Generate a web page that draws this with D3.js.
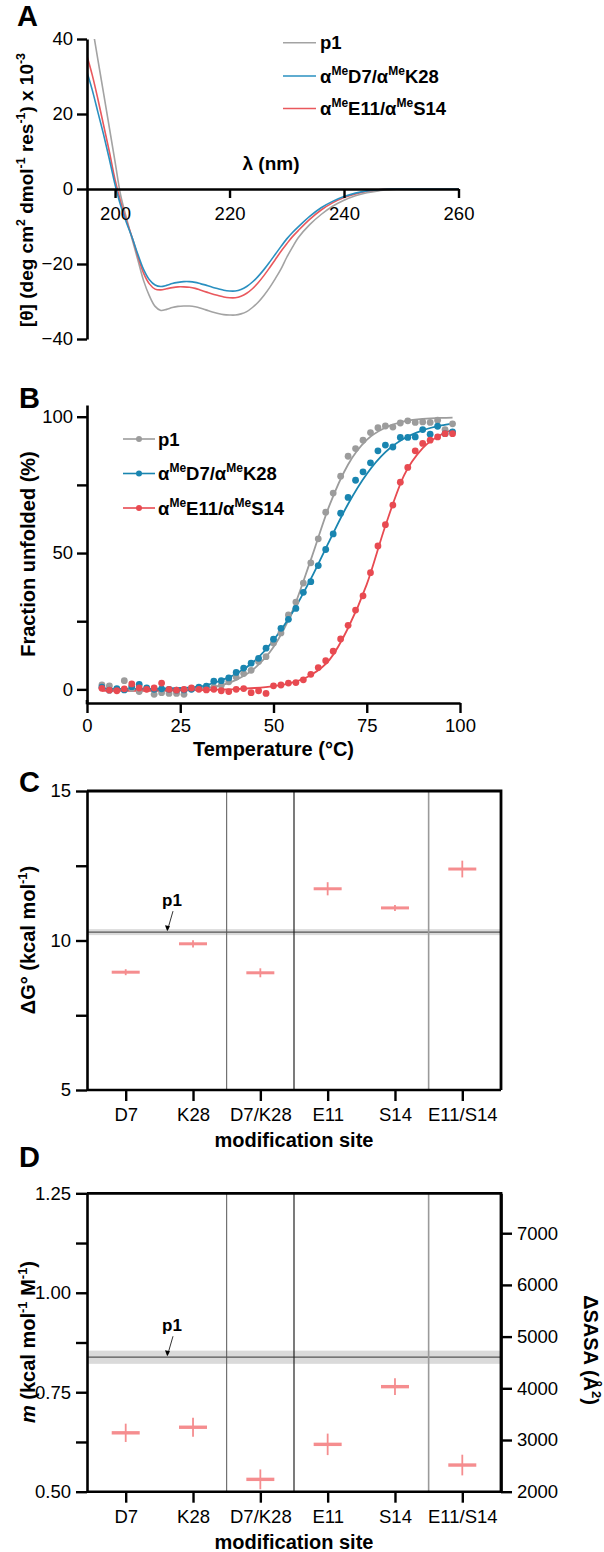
<!DOCTYPE html>
<html><head><meta charset="utf-8">
<script src="https://cdn.jsdelivr.net/npm/d3@7/dist/d3.min.js"></script>
<style>body{margin:0;background:#fff}svg{display:block}</style>
</head><body>
<script>
// ---------- DATA ----------
// Panel A: CD spectra
const cdWavelength = [195,196,197,198,199,200,201,202,203,204,205,206,207,208,209,210,211,212,213,214,215,216,217,218,219,220,221,222,223,224,225,226,227,228,229,230,231,232,234,236,238,240,242,244,246,248,250,252,254,256,258,260];
const cdP1     = [52,43.6,34.5,25.5,16.4,7.3,-1.8,-7.8,-13.5,-19,-24.5,-28.5,-31.3,-32.4,-32.1,-31.6,-31.3,-31.2,-31.2,-31.4,-31.8,-32.3,-32.8,-33.2,-33.5,-33.6,-33.6,-33.3,-32.7,-31.6,-30.2,-28.4,-26.3,-23.9,-21.3,-18.2,-15.5,-13,-9.5,-6.8,-4.6,-3,-1.8,-1,-0.5,-0.2,0,0,0,0,0,0];
const cdD7K28  = [31.7,26.5,20.5,14.5,8,1.2,-4.5,-9,-13,-17.5,-21.5,-24.2,-25.6,-26,-25.7,-25.2,-24.9,-24.7,-24.7,-24.9,-25.3,-25.7,-26.2,-26.6,-27,-27.2,-27.2,-26.8,-26,-24.8,-23.3,-21.5,-19.5,-17.4,-15.3,-13.3,-11.6,-10.1,-7.3,-5,-3.3,-2,-1.1,-0.5,-0.2,0,0,0,0,0,0,0];
const cdE11S14 = [36,30.5,24,17,10,2.5,-3.5,-8.5,-13,-18,-22.5,-25.3,-26.7,-26.9,-26.6,-26.3,-26.1,-26.1,-26.2,-26.5,-27,-27.5,-28,-28.4,-28.8,-29,-29,-28.6,-27.8,-26.6,-25,-23.1,-21,-18.8,-16.6,-14.6,-12.7,-11.1,-8.1,-5.6,-3.7,-2.3,-1.3,-0.6,-0.2,0,0,0,0,0,0,0];
const cdTicksX = [200,220,240,260];
const cdTicksY = [-40,-20,0,20,40];

// Panel B: thermal melts
const meltTemp = [4,6,8,10,12,14,16,18,20,22,24,26,28,30,32,34,36,38,40,42,44,46,48,50,52,54,56,58,60,62,64,66,68,70,72,74,76,78,80,82,84,86,88,90,92,94,96,98];
const meltP1     = [1.6,1.3,0,3.2,0.3,-0.8,0.2,-1.8,-1.2,-1.5,-1.5,-1.8,0.2,0.3,0.5,0.8,1.5,2.8,4.5,5.8,7,10.2,12,17,20.7,27.3,32,39,46.4,55.2,65,72,78.2,85.5,88.3,91.4,94.2,96,96.6,96.2,97.7,98.5,97.9,98.1,97.9,98.7,95.3,97.4];
const meltD7K28  = [0.8,-0.3,0.3,-0.2,1,1.8,0.5,0,0.2,0,-0.3,-0.2,0,0.8,1.2,3,3.2,4.2,6.2,7.8,9.6,11.4,15.1,18.4,22.4,25.7,29.7,35.6,39.5,45.4,51.3,57,64.6,70.4,76.7,79.8,83.1,87.5,89.6,88.9,92.4,92.4,92.6,95.3,93.6,96.5,93.8,94.4];
const meltE11S14 = [0.4,-0.3,-0.5,0.2,2,0.5,0,0.5,2.3,0,-0.3,0,0.5,0,-0.2,0,-0.5,-0.8,0,0.3,-1.2,-0.5,-1.5,1.3,1.6,2.3,2.5,3.5,5.5,8,10.5,14,18.5,23.5,29.1,34.3,42.8,52.6,60.4,67.6,76,81.4,87.5,90.2,91.4,92.6,93.8,93.8];
const fitTemp = [4,10,15,20,25,30,35,40,45,50,55,60,65,70,75,80,85,90,95,98];
const fitP1     = [0.3,0,-0.2,-0.2,0,0.3,1.2,3.5,7.8,15.5,28.5,47.5,67.5,82.5,91.5,96,98.3,99.2,99.6,99.7];
const fitD7K28  = [0.3,0.2,0.2,0.3,0.5,1,2.8,5.7,10.5,18,28,40.5,54.5,68,79,87,92,95,96.8,97.5];
const fitE11S14 = [-0.5,-0.5,-0.5,-0.5,-0.4,-0.3,-0.1,0.1,0.5,1.2,2.5,5.2,10.8,22.5,38.5,60,78.5,88.5,93.5,95.3];
const meltTicksX = [0,25,50,75,100];
const meltTicksY = [0,25,50,75,100];

// Panels C & D
const sites = ["D7","K28","D7/K28","E11","S14","E11/S14"];
const dG    = [8.94,9.89,8.92,11.73,11.09,12.39];
const dGErr = [0.1,0.12,0.15,0.22,0.1,0.28];
const p1DG = 10.28, p1DGErr = 0.1;
const mVal  = [0.648,0.662,0.531,0.619,0.764,0.567];
const mErr  = [0.023,0.024,0.025,0.027,0.021,0.026];
const p1M = 0.838, p1MErr = 0.0166;
const dGTicks = [5,7.5,10,12.5,15];
const mTicks = [0.5,0.625,0.75,0.875,1,1.125,1.25];
const sasaTicks = [2000,3000,4000,5000,6000,7000];

// ---------- DRAW ----------
const FONT = "'Liberation Sans', Arial, Helvetica, sans-serif";
const svg = d3.select("body").append("svg").attr("width",604).attr("height",1552)
  .attr("font-family",FONT);

const GRAY="#a3a3a3", BLUE="#2a90c0", RED="#e9585d";
const BGRAY="#9c9c9c", BBLUE="#1985b0", BRED="#e84a51";
const MARK="#f58d8f";
const TICKFS = 18.5;

function rich(g, x, y, parts, o){
  const t = g.append("text")
    .attr("transform",`translate(${x},${y})`+(o.rot?` rotate(${o.rot})`:""))
    .attr("text-anchor",o.anchor||"start").attr("font-size",o.size)
    .attr("font-weight",o.weight||"normal").attr("fill","#000");
  let shift=0;
  parts.forEach(p=>{
    const [txt,kind] = Array.isArray(p)?p:[p,"n"];
    const ts=t.append("tspan").text(txt);
    const target = kind==="s" ? -0.42*o.size : 0;
    if(target!==shift){ ts.attr("dy",target-shift); shift=target; }
    if(kind==="s") ts.attr("font-size",o.size*0.65);
    if(kind==="i") ts.attr("font-style","italic");
  });
  return t;
}
function styleAxis(g){
  g.attr("font-family",FONT).attr("font-size",TICKFS);
  g.selectAll("path.domain").attr("stroke","#000").attr("stroke-width",2.6);
  g.selectAll(".tick line").attr("stroke","#000").attr("stroke-width",2.4);
  g.selectAll(".tick text").attr("fill","#000");
}
function panelLetter(t,x,y){
  svg.append("text").attr("x",x).attr("y",y).attr("font-size",29).attr("font-weight","bold").text(t);
}

// ===== Panel A =====
{
  const g = svg.append("g");
  const x = d3.scaleLinear([195.1,260],[87,458.5]);
  const y = d3.scaleLinear([-40,40],[339,39]);
  svg.append("defs").append("clipPath").attr("id","clipA")
    .append("rect").attr("x",87).attr("y",39).attr("width",372).attr("height",300);
  const series = [[cdP1,GRAY],[cdE11S14,RED],[cdD7K28,BLUE]];
  const line = d3.line().x((d,i)=>x(cdWavelength[i])).y(d=>y(d)).curve(d3.curveCatmullRom);
  series.forEach(([vals,c])=>{
    g.append("path").attr("d",line(vals)).attr("fill","none").attr("stroke",c)
      .attr("stroke-width",1.6).attr("clip-path","url(#clipA)");
  });
  const ay = g.append("g").attr("transform","translate(87,0)")
    .call(d3.axisLeft(y).tickValues(cdTicksY).tickSize(10).tickPadding(4).tickSizeOuter(0));
  styleAxis(ay);
  const ax = g.append("g").attr("transform",`translate(0,${y(0)})`)
    .call(d3.axisBottom(x).tickValues(cdTicksX).tickSize(9).tickPadding(9).tickSizeOuter(0));
  styleAxis(ax);
  rich(g,271,170,["λ (nm)"],{size:19,weight:"bold",anchor:"middle"});
  rich(g,33,190,["[θ] (deg cm",["2","s"]," dmol",["-1","s"]," res",["-1","s"],") x 10",["-3","s"]],
    {size:19,weight:"bold",anchor:"middle",rot:-90});
  const leg = [["p1",GRAY,[ "p1" ]],["d",BLUE,["α",["Me","s"],"D7/α",["Me","s"],"K28"]],["e",RED,["α",["Me","s"],"E11/α",["Me","s"],"S14"]]];
  const ly=[42.7,76,108.5];
  leg.forEach((l,i)=>{
    g.append("line").attr("x1",283).attr("x2",316).attr("y1",ly[i]).attr("y2",ly[i]).attr("stroke",l[1]).attr("stroke-width",1.6);
    rich(g,320,ly[i]+6.5,l[2],{size:18.5,weight:"bold"});
  });
  panelLetter("A",17,26);
}

// ===== Panel B =====
{
  const g = svg.append("g");
  const x = d3.scaleLinear([0,100],[87,460]);
  const y = d3.scaleLinear([-5,104.3],[703,405]);
  const series = [[meltP1,fitP1,BGRAY],[meltD7K28,fitD7K28,BBLUE],[meltE11S14,fitE11S14,BRED]];
  const fl = d3.line().x((d,i)=>x(fitTemp[i])).y(d=>y(d)).curve(d3.curveMonotoneX);
  series.forEach(([pts,fit,c])=>{
    g.append("path").attr("d",fl(fit)).attr("fill","none").attr("stroke",c).attr("stroke-width",1.8);
  });
  series.forEach(([pts,fit,c])=>{
    g.append("g").selectAll("circle").data(pts).join("circle")
      .attr("cx",(d,i)=>x(meltTemp[i])).attr("cy",d=>y(d)).attr("r",3.4).attr("fill",c);
  });
  const ay = g.append("g").attr("transform","translate(87,0)")
    .call(d3.axisLeft(y).tickValues(meltTicksY).tickSize(10).tickPadding(4).tickSizeOuter(0)
      .tickFormat(d=> d%50===0? d : ""));
  styleAxis(ay);
  const ax = g.append("g").attr("transform","translate(0,703)")
    .call(d3.axisBottom(x).tickValues(meltTicksX).tickSize(10).tickPadding(6).tickSizeOuter(0));
  styleAxis(ax);
  g.append("line").attr("x1",87).attr("x2",87).attr("y1",700).attr("y2",704.3).attr("stroke","#000").attr("stroke-width",2.6);
  rich(g,273.5,756,["Temperature (°C)"],{size:20,weight:"bold",anchor:"middle"});
  rich(g,35,554,["Fraction unfolded (%)"],{size:20,weight:"bold",anchor:"middle",rot:-90});
  const leg=[[BGRAY,["p1"]],[BBLUE,["α",["Me","s"],"D7/α",["Me","s"],"K28"]],[BRED,["α",["Me","s"],"E11/α",["Me","s"],"S14"]]];
  const ly=[439,473.5,508];
  leg.forEach((l,i)=>{
    g.append("line").attr("x1",123).attr("x2",155).attr("y1",ly[i]).attr("y2",ly[i]).attr("stroke",l[0]).attr("stroke-width",1.6);
    g.append("circle").attr("cx",139).attr("cy",ly[i]).attr("r",3).attr("fill",l[0]);
    rich(g,158,ly[i]+6.5,l[1],{size:18.5,weight:"bold"});
  });
  panelLetter("B",19,408);
}

// ===== Panels C and D (shared layout) =====
function sitePanel(opt){
  const g = svg.append("g");
  const x = d3.scalePoint(sites,[87,501]).padding(0.575);
  const y = opt.y;
  const [top,bot] = [y.range()[1], y.range()[0]];
  g.append("rect").attr("x",87).attr("width",414).attr("y",y(opt.p1+opt.p1Err))
    .attr("height",y(opt.p1-opt.p1Err)-y(opt.p1+opt.p1Err)).attr("fill","#dadada");
  g.append("line").attr("x1",87).attr("x2",501).attr("y1",y(opt.p1)).attr("y2",y(opt.p1))
    .attr("stroke","#555").attr("stroke-width",1.2);
  const divs=[[1,"#555",1],[2,"#222",1.2],[4,"#9a9a9a",1.6]];
  divs.forEach(([i,c,w])=>{
    const xv=(x(sites[i])+x(sites[i+1]))/2;
    g.append("line").attr("x1",xv).attr("x2",xv).attr("y1",top).attr("y2",bot).attr("stroke",c).attr("stroke-width",w);
  });
  sites.forEach((s,i)=>{
    const cx=x(s), v=opt.vals[i], e=opt.errs[i];
    g.append("line").attr("x1",cx).attr("x2",cx).attr("y1",y(v-e)).attr("y2",y(v+e)).attr("stroke",MARK).attr("stroke-width",1.8);
    g.append("line").attr("x1",cx-14).attr("x2",cx+14).attr("y1",y(v)).attr("y2",y(v)).attr("stroke",MARK).attr("stroke-width",opt.barW);
  });
  g.append("path").attr("d",`M87,${top}H501V${bot}`).attr("fill","none").attr("stroke","#000").attr("stroke-width",2.8);
  const ay=g.append("g").attr("transform","translate(87,0)")
    .call(d3.axisLeft(y).tickValues(opt.ticks).tickSize(11).tickPadding(5).tickSizeOuter(0).tickFormat(opt.fmt));
  styleAxis(ay);
  const ax=g.append("g").attr("transform",`translate(0,${bot})`)
    .call(d3.axisBottom(x).tickSize(11).tickPadding(7).tickSizeOuter(0));
  styleAxis(ax);
  ax.select("path.domain").attr("d",`M87,0H501`);
  rich(g,294,bot+57,["modification site"],{size:20,weight:"bold",anchor:"middle"});
  const ay1=y(opt.p1);
  rich(g,172,ay1-26,["p1"],{size:17,weight:"bold",anchor:"middle"});
  g.append("path").attr("d",`M173,${ay1-21}L167.5,${ay1-2}`).attr("stroke","#000").attr("stroke-width",0.8).attr("fill","none");
  g.append("path").attr("d",`M167.2,${ay1-1}L165,${ay1-7}L170,${ay1-6}Z`).attr("fill","#000");
  return {g,x,y,top,bot};
}

// C
{
  const y=d3.scaleLinear([5,15],[1090,791]);
  const p=sitePanel({y,vals:dG,errs:dGErr,p1:p1DG,p1Err:p1DGErr,ticks:dGTicks,fmt:d=>Number.isInteger(d)&&d%5===0?d:"",barW:3});
  rich(p.g,35,940,["ΔG° (kcal mol",["-1","s"],")"],{size:20,weight:"bold",anchor:"middle",rot:-90});
  panelLetter("C",19,792);
}
// D
{
  const y=d3.scaleLinear([0.5,1.25],[1491.7,1193.3]);
  const p=sitePanel({y,vals:mVal,errs:mErr,p1:p1M,p1Err:p1MErr,ticks:mTicks,fmt:d=>(Math.round(d*100)%25===0)?d3.format(".2f")(d):"",barW:3.4});
  const yr=d3.scaleLinear([2000,7772],[1491.7,1193.3]);
  const ar=p.g.append("g").attr("transform","translate(501,0)")
    .call(d3.axisRight(yr).tickValues(sasaTicks).tickSize(11).tickPadding(5).tickSizeOuter(0).tickFormat(d3.format("d")));
  styleAxis(ar);
  rich(p.g,35,1342,[["m","i"]," (kcal mol",["-1","s"]," M",["-1","s"],")"],{size:20,weight:"bold",anchor:"middle",rot:-90});
  rich(p.g,584,1350,["ΔSASA (Å",["2","s"],")"],{size:20,weight:"bold",anchor:"middle",rot:90});
  panelLetter("D",19,1167);
}
</script>
</body></html>
